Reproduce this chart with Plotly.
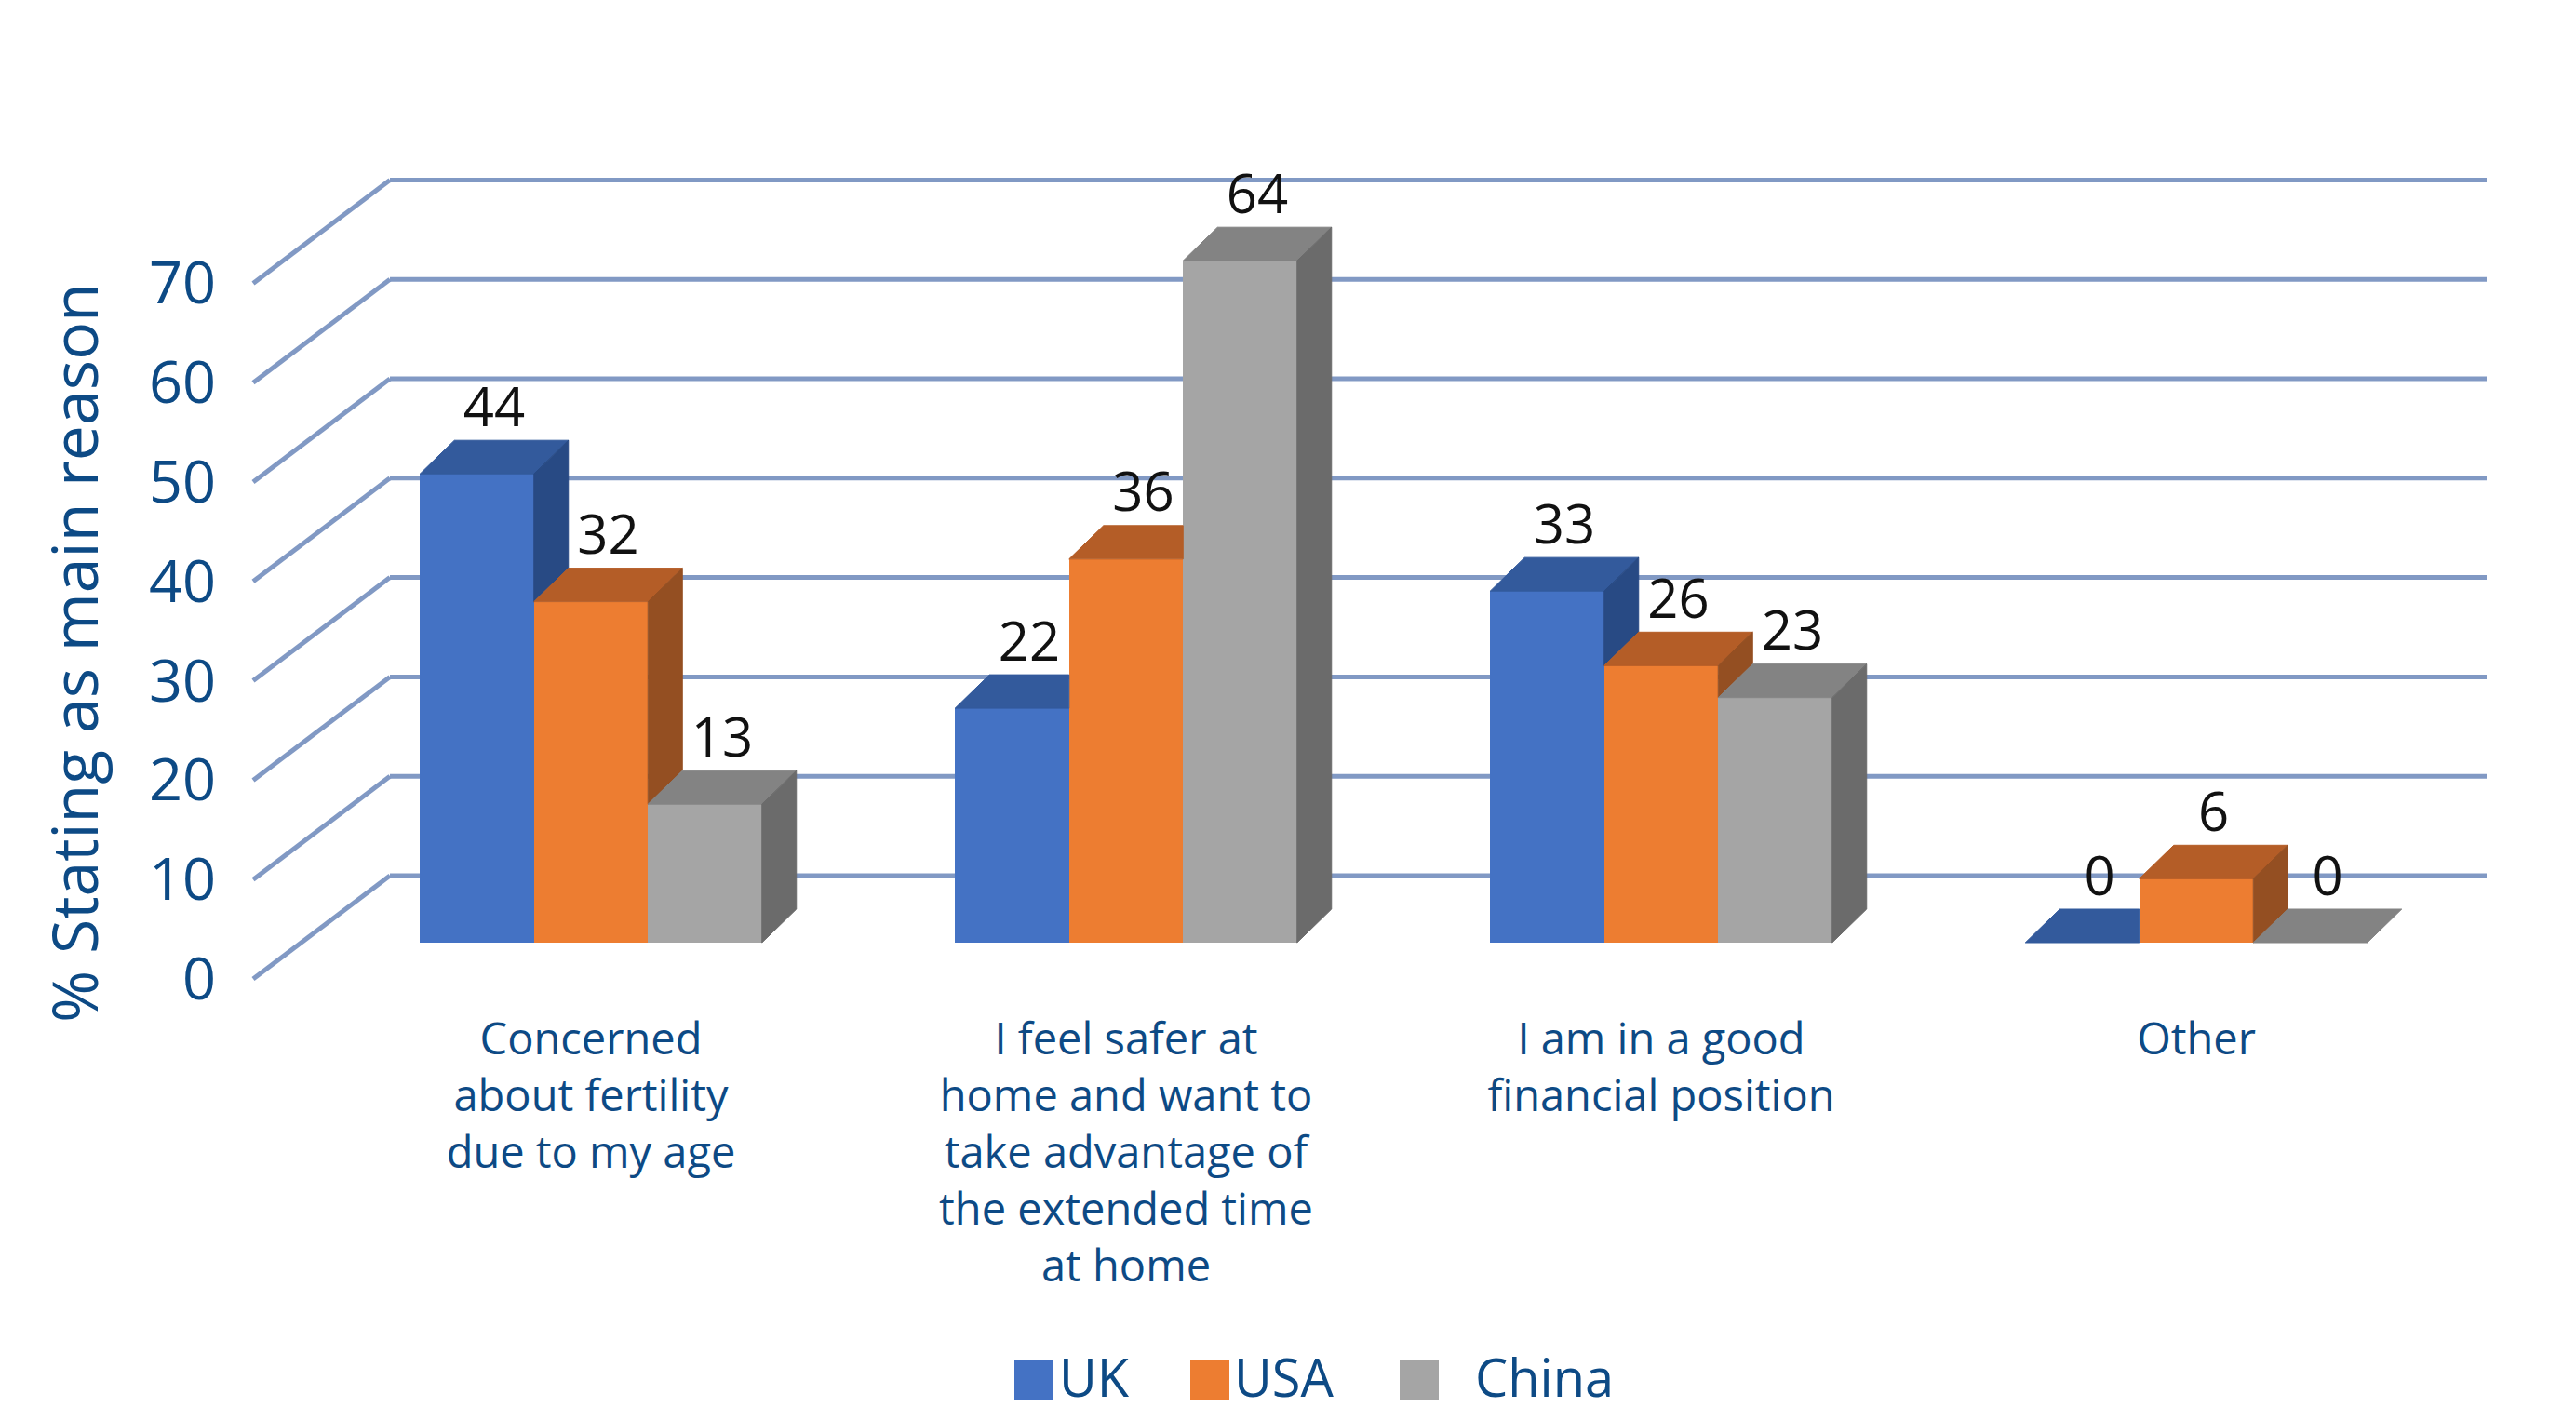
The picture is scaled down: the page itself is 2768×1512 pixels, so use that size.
import plotly.graph_objects as go

# ---------------- data ----------------
categories = [
    "Concerned<br>about fertility<br>due to my age",
    "I feel safer at<br>home and want to<br>take advantage of<br>the extended time<br>at home",
    "I am in a good<br>financial position",
    "Other",
]
series_names = ["UK", "USA", "China"]
uk = [44, 22, 33, 0]
usa = [32, 36, 26, 6]
china = [13, 64, 23, 0]
y_ticks = [0, 10, 20, 30, 40, 50, 60, 70]
y_title = "% Stating as main reason"

# ---------------- style / geometry (pixels) ----------------
W, H = 2768, 1512
ML = 236                 # left margin
UNIT_X = 575.0           # px per category
X_CENTER0 = 627.0        # px of first group centre
FLOOR_PX = 1005          # px of bar floor
UNIT_Y = 11.45           # px per % for bars
FRONT0_PX = 1044         # px of front "0" grid
UNIT_Y2 = 10.68          # px per % for grid
BACK_DX, BACK_DY = 147, 111
GRID_LEFT, GRID_RIGHT = 264, 2664
BAR_W_PX = 122.5
DEPTH_DX_PX, DEPTH_DY_PX = 37, 36
LABEL_OFF_PX = 30

TEXT_BLUE = "#0D4A85"
GRID_COL = "#8199C4"
FONT = "Open Sans"
front_cols = ["#4472C4", "#ED7D31", "#A5A5A5"]
top_cols = ["#335A9C", "#B45D27", "#838383"]
side_cols = ["#284A84", "#944F22", "#6B6B6B"]

x0 = -(X_CENTER0 - ML) / UNIT_X
x1 = x0 + (W - ML) / UNIT_X
yr = [(FLOOR_PX - H) / UNIT_Y, FLOOR_PX / UNIT_Y]
y2r = [(FRONT0_PX - H) / UNIT_Y2, FRONT0_PX / UNIT_Y2]


def px_x(p):
    return x0 + (p - ML) / UNIT_X


def paper_x(p):
    return (p - ML) / (W - ML)


def paper_y(p):
    return 1 - p / H


BW = BAR_W_PX / UNIT_X
DDX = DEPTH_DX_PX / UNIT_X
DDY = DEPTH_DY_PX / UNIT_Y
LOFF = LABEL_OFF_PX / UNIT_Y

fig = go.Figure()
all_series = [uk, usa, china]
xs = list(range(len(categories)))

# front faces
for k, vals in enumerate(all_series):
    fig.add_trace(go.Bar(
        x=xs, y=vals, offset=-1.5 * BW + k * BW, width=BW,
        marker=dict(color=front_cols[k], line=dict(width=0)),
        name=series_names[k], showlegend=False, hoverinfo="skip",
    ))

# top and side faces (computed from values, clipped by the next bar)
for k, vals in enumerate(all_series):
    tx, ty, sx, sy = [], [], [], []
    for i, v in enumerate(vals):
        xl = i - 1.5 * BW + k * BW
        xr = xl + BW
        vn = all_series[k + 1][i] if k + 1 < len(all_series) else None
        # top face
        if vn is None or vn <= v:
            px_ = [xl, xr, xr + DDX, xl + DDX]
            py_ = [v, v, v + DDY, v + DDY]
        elif vn >= v + DDY:
            px_ = [xl, xr, xr, xl + DDX]
            py_ = [v, v, v + DDY, v + DDY]
        else:
            px_ = [xl, xr, xr, xr + (v + DDY - vn) / DDY * DDX, xl + DDX]
            py_ = [v, v, vn, v + DDY, v + DDY]
        tx += px_ + [px_[0], None]
        ty += py_ + [py_[0], None]
        # side face
        if v > 0:
            if vn is None:
                b = 0
            elif v > vn:
                b = vn
            else:
                b = None
            if b is not None:
                qx = [xr, xr, xr + DDX, xr + DDX]
                qy = [b, v, v + DDY, b + DDY]
                sx += qx + [qx[0], None]
                sy += qy + [qy[0], None]
    fig.add_trace(go.Scatter(x=tx, y=ty, mode="lines", fill="toself",
                             fillcolor=top_cols[k],
                             line=dict(width=1, color=top_cols[k]),
                             showlegend=False, hoverinfo="skip"))
    if sx:
        fig.add_trace(go.Scatter(x=sx, y=sy, mode="lines", fill="toself",
                                 fillcolor=side_cols[k],
                                 line=dict(width=1, color=side_cols[k]),
                                 showlegend=False, hoverinfo="skip"))

# data labels
for k, vals in enumerate(all_series):
    lx = [i - 1.5 * BW + k * BW + BW / 2 + DDX / 2 for i in xs]
    ly = [v + DDY + LOFF for v in vals]
    fig.add_trace(go.Scatter(
        x=lx, y=ly, mode="text", text=[str(v) for v in vals],
        textposition="middle center",
        textfont=dict(family=FONT, size=58, color="#111111"),
        showlegend=False, hoverinfo="skip", cliponaxis=False,
    ))

# perspective grid (back wall + side wall diagonals)
shapes = []
bdy = BACK_DY / UNIT_Y2
for t in y_ticks:
    shapes.append(dict(type="line", xref="x", yref="y2",
                       x0=px_x(GRID_LEFT), y0=t,
                       x1=px_x(GRID_LEFT + BACK_DX), y1=t + bdy,
                       line=dict(color=GRID_COL, width=5), layer="below"))
    shapes.append(dict(type="line", xref="x", yref="y2",
                       x0=px_x(GRID_LEFT + BACK_DX), y0=t + bdy,
                       x1=px_x(GRID_RIGHT), y1=t + bdy,
                       line=dict(color=GRID_COL, width=5), layer="below"))

# legend (manual, large swatches)
annotations = []
leg_sq_x = [1082, 1271, 1496]
leg_tx_x = [1128, 1316, 1575]
LEG_Y = 1475
SQ = 42
for k, name in enumerate(series_names):
    shapes.append(dict(type="rect", xref="paper", yref="paper",
                       x0=paper_x(leg_sq_x[k]), x1=paper_x(leg_sq_x[k] + SQ),
                       y0=paper_y(LEG_Y - SQ / 2), y1=paper_y(LEG_Y + SQ / 2),
                       fillcolor=front_cols[k], line=dict(width=0)))
    annotations.append(dict(xref="paper", yref="paper",
                            x=paper_x(leg_tx_x[k]), y=paper_y(LEG_Y - 4),
                            xanchor="left", yanchor="middle", showarrow=False,
                            text=name,
                            font=dict(family=FONT, size=56, color=TEXT_BLUE)))

# y axis title
annotations.append(dict(xref="paper", yref="paper",
                        x=paper_x(70), y=paper_y(694), textangle=-90,
                        xanchor="center", yanchor="middle", showarrow=False,
                        text=y_title,
                        font=dict(family=FONT, size=68, color=TEXT_BLUE)))

fig.update_layout(
    width=W, height=H,
    margin=dict(l=ML, r=0, t=0, b=0),
    paper_bgcolor="white", plot_bgcolor="white",
    barmode="overlay", bargap=0,
    showlegend=False,
    shapes=shapes, annotations=annotations,
    xaxis=dict(range=[x0, x1], tickvals=xs, ticktext=categories,
               anchor="free", position=paper_y(1077),
               showgrid=False, zeroline=False, showline=False, ticks="",
               tickfont=dict(family=FONT, size=47, color=TEXT_BLUE)),
    yaxis=dict(range=yr, visible=False, showgrid=False, zeroline=False),
    yaxis2=dict(range=y2r, overlaying="y", side="left", anchor="free",
                position=0, tickvals=y_ticks,
                showgrid=False, zeroline=False, showline=False, ticks="",
                ticklabelstandoff=12,
                tickfont=dict(family=FONT, size=63, color=TEXT_BLUE)),
)

fig.write_html("out.html")
